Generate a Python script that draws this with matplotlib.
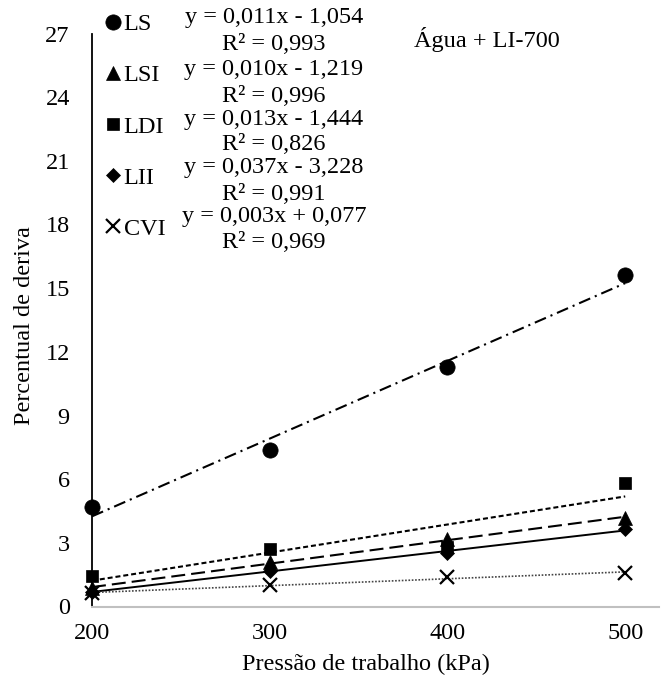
import numpy as np
import matplotlib
matplotlib.use("Agg")
import matplotlib.pyplot as plt

plt.rcParams['font.family'] = ['Liberation Serif', 'DejaVu Serif']

# ---- data ----
pressure = [200, 300, 400, 500]
series_names = ["LS", "LSI", "LDI", "LII", "CVI"]
ls_vals = [4.70, 7.38, 11.28, 15.61]
lsi_vals = [0.85, 2.08, 3.20, 4.16]
ldi_vals = [1.46, 2.71, 2.80, 5.84]
lii_vals = [0.70, 1.69, 2.50, 3.65]
cvi_vals = [0.62, 0.99, 1.41, 1.56]
equations = ["y = 0,011x - 1,054", "y = 0,010x - 1,219", "y = 0,013x - 1,444",
             "y = 0,037x - 3,228", "y = 0,003x + 0,077"]
r2_labels = ["R² = 0,993", "R² = 0,996", "R² = 0,826", "R² = 0,991", "R² = 0,969"]
yticks = [0, 3, 6, 9, 12, 15, 18, 21, 24, 27]
title_text = "Água + LI-700"

FS = 17.5
W, H = 669, 687
fig = plt.figure(figsize=(W / 100, H / 100), dpi=100)
ax_l, ax_r, ax_t, ax_b = 92, 659, 33.5, 606.5
ax = fig.add_axes([ax_l / W, 1 - ax_b / H, (ax_r - ax_l) / W, (ax_b - ax_t) / H])

values = [ls_vals, lsi_vals, ldi_vals, lii_vals, cvi_vals]
markers = ['o', '^', 's', 'D', 'x']
msizes = [11, 10, 9, 7, 10]
line_styles = [
    dict(color='black', lw=1.5, dashes=(5.8, 2.4, 1.0, 2.4)),
    dict(color='black', lw=1.5, dashes=(6.7, 2.9)),
    dict(color='black', lw=1.5, dashes=(2.4, 1.4)),
    dict(color='black', lw=1.4, linestyle='-'),
    dict(color='#444444', lw=1.2, dashes=(1, 1)),
]

x = np.array(pressure, dtype=float)
handles = []
for name, vals, mk, ms, st in zip(series_names, values, markers, msizes, line_styles):
    coef = np.polyfit(x, vals, 1)
    ax.plot(x, np.polyval(coef, x), zorder=2, **st)
    h, = ax.plot(x, vals, linestyle='none', marker=mk, markersize=ms,
                 color='black', markeredgewidth=1.6 if mk == 'x' else 0.5,
                 zorder=3, label=name, clip_on=False)
    handles.append(h)

ax.set_xlim(200, 519)
ax.set_ylim(0, 27)
ax.set_xticks(pressure)
ax.set_yticks(yticks)
ax.tick_params(length=0, labelsize=FS)
ax.tick_params(axis='y', pad=16)
ax.tick_params(axis='x', pad=12)
for s in ['top', 'right']:
    ax.spines[s].set_visible(False)
ax.spines['left'].set_color('black')
ax.spines['left'].set_linewidth(1.3)
ax.spines['bottom'].set_color('#c0c0c0')
ax.spines['bottom'].set_linewidth(1.5)

ax.set_ylabel("Percentual de deriva", fontsize=FS, va='center', ha='center')
ax.yaxis.set_label_coords((25 - ax_l) / (ax_r - ax_l), (ax_b - 326) / (ax_b - ax_t))
ax.set_xlabel("Pressão de trabalho (kPa)", fontsize=FS, va='center', ha='center')
ax.xaxis.set_label_coords((366 - ax_l) / (ax_r - ax_l), -(664 - ax_b) / (ax_b - ax_t))

leg = fig.legend(handles=handles, labels=series_names, loc='upper left',
                 bbox_to_anchor=(92 / W, 1 - 1 / H), frameon=False,
                 fontsize=FS, handlelength=0.7, handletextpad=0.1,
                 borderpad=0, labelspacing=1.2)

eq_y = [18, 70, 119, 168, 216]
for eq, r2, yy in zip(equations, r2_labels, eq_y):
    fig.text(274 / W, 1 - yy / H, eq, ha='center', va='center', fontsize=FS)
    fig.text(274 / W, 1 - (yy + 26) / H, r2, ha='center', va='center', fontsize=FS)

fig.text(487 / W, 1 - 40 / H, title_text, ha='center', va='center', fontsize=FS)

fig.savefig("out.png", dpi=100)
